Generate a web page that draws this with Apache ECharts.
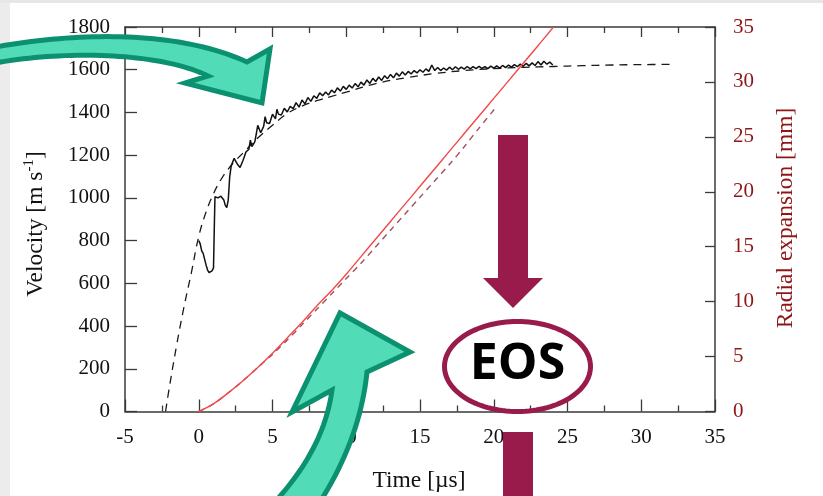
<!DOCTYPE html>
<html>
<head>
<meta charset="utf-8">
<script src="https://cdn.jsdelivr.net/npm/echarts@6/dist/echarts.min.js"></script>
<style>
  html, body { margin: 0; padding: 0; background: #ffffff; }
  #chart { width: 823px; height: 496px; }
</style>
</head>
<body>
<div id="chart"></div>
<script>
// Measured velocity [m/s] against time [µs]
const velTime = [0,0.1,0.2,0.3,0.4,0.5,0.6,0.7,0.8,0.9,1.0,1.06,1.1,1.2,1.3,1.4,1.5,1.6,1.7,1.8,1.9,2.0,2.1,
  2.2,2.4,2.6,2.8,3.0,3.2,3.4,3.5,3.6,3.8,3.9,4.0,4.2,4.4,4.5,4.6,4.8,5.0,5.2,5.3,5.4,5.6,5.8,6.0,6.2,6.4,6.6,6.8,
  7.0,7.2,7.4,7.6,7.8,8.0,8.2,8.4,8.6,8.8,9.0,9.2,9.4,9.6,9.8,10.0,10.2,10.4,10.6,10.8,11.0,11.2,11.4,11.6,11.8,
  12.0,12.2,12.4,12.6,12.8,13.0,13.2,13.4,13.6,13.8,14.0,14.2,14.4,14.6,14.8,15.0,15.2,15.4,15.6,15.8,
  16.0,16.2,16.4,16.6,16.8,17.0,17.2,17.4,17.6,17.8,18.0,18.2,18.4,18.6,18.8,19.0,19.2,19.4,19.6,19.8,
  20.0,20.2,20.4,20.6,20.8,21.0,21.2,21.4,21.6,21.8,22.0,22.2,22.4,22.6,22.8,23.0,23.2,23.4,23.6,23.8,24.0];
const velValue = [800,785,752,740,712,685,662,650,648,658,672,880,1005,1012,1000,995,1008,1012,990,965,955,990,1100,
  1150,1185,1160,1142,1175,1215,1228,1270,1240,1262,1300,1340,1305,1335,1380,1352,1348,1392,1370,1415,1392,1388,1420,1402,1428,1418,1446,1425,
  1458,1440,1470,1452,1478,1466,1492,1478,1496,1482,1505,1492,1515,1500,1522,1508,1528,1514,1535,1520,1542,1528,1552,1536,1560,
  1545,1566,1550,1572,1558,1578,1562,1584,1570,1590,1575,1592,1580,1596,1585,1600,1588,1604,1592,1622,
  1596,1610,1596,1608,1598,1612,1600,1614,1602,1612,1603,1615,1604,1614,1605,1616,1606,1615,1605,1617,
  1607,1618,1608,1620,1610,1622,1612,1624,1614,1626,1616,1630,1618,1632,1620,1638,1622,1640,1626,1636,1622];

// Fitted velocity curve [m/s]
const fitTime = [-2.25,-2,-1.5,-1,-0.5,0,0.5,1,1.5,2,2.5,3,4,5,6,7,8,9,10,12,14,16,18,20,22,24,26,28,30,32.3];
const fitValue = [0,110,310,490,650,820,935,1020,1085,1135,1175,1210,1280,1340,1395,1430,1455,1475,1495,1535,1562,1582,1596,1605,1611,1615,1619,1622,1624,1625];

// Measured radial expansion [mm]
const radTime = [0,1,2,3,4,5,6,7,8,9,10,11,12,13,14,15,16,17,18,19,20,21,22,23,24.05];
const radValue = [0,0.7,1.7,2.8,4.0,5.3,6.7,8.1,9.6,11.0,12.5,14.1,15.7,17.3,18.9,20.5,22.1,23.7,25.3,26.9,28.5,30.1,31.7,33.3,35];

// Modelled radial expansion [mm]
const radFitTime = [0,1,2,3,4,5,6,7,8,9,10,11,12,13,14,15,16,17,18,19,20.1];
const radFitValue = [0,0.7,1.7,2.8,4.0,5.2,6.5,7.9,9.3,10.7,12.1,13.5,15.0,16.5,18.0,19.5,21.0,22.5,24.1,25.8,27.6];

// Axis ranges
const timeRange = [-5, 35, 5];
const velRange = [0, 1800, 200];
const radRange = [0, 35, 5];

const zip = (xs, ys) => xs.map((x, i) => [x, ys[i]]);

// Helpers that turn curved outlines into polygon point lists
function cubicPts(p0, p1, p2, p3, n) {
  const out = [];
  for (let i = 0; i <= n; i++) {
    const t = i / n, u = 1 - t;
    out.push([
      u*u*u*p0[0] + 3*u*u*t*p1[0] + 3*u*t*t*p2[0] + t*t*t*p3[0],
      u*u*u*p0[1] + 3*u*u*t*p1[1] + 3*u*t*t*p2[1] + t*t*t*p3[1]
    ]);
  }
  return out;
}
function quadPts(p0, p1, p2, n) {
  const out = [];
  for (let i = 0; i <= n; i++) {
    const t = i / n, u = 1 - t;
    out.push([u*u*p0[0] + 2*u*t*p1[0] + t*t*p2[0], u*u*p0[1] + 2*u*t*p1[1] + t*t*p2[1]]);
  }
  return out;
}
function ellipsePts(cx, cy, rx, ry, n) {
  const out = [];
  for (let i = 0; i < n; i++) {
    const a = 2 * Math.PI * i / n;
    out.push([cx + rx * Math.cos(a), cy + ry * Math.sin(a)]);
  }
  return out;
}

// upper-left arrow outline
const arrowTop = [].concat(
  cubicPts([-10, 48], [80, 31], [180, 31], [247, 62], 40),
  [[270, 49], [262, 103], [185, 83]],
  cubicPts([208, 76], [160, 52], [60, 50], [-10, 64], 40)
);
// lower arrow outline
const arrowBottom = [].concat(
  [[340, 313], [410, 352]],
  quadPts([367, 372], [360, 440], [318, 505], 30),
  quadPts([272, 505], [324, 450], [332, 390], 30),
  [[292, 412]]
);

const SERIF = '"Liberation Serif", "Times New Roman", serif';
const AXIS = '#3a3a3a';
const DARKRED = '#8e1616';
const MAROON = '#981b4c';
const TEAL_FILL = '#52dbb7';
const TEAL_EDGE = '#0c9170';
const plainNumber = v => String(v);

const chart = echarts.init(document.getElementById('chart'), null, { renderer: 'canvas' });

const xCommon = {
  type: 'value', min: timeRange[0], max: timeRange[1], interval: timeRange[2],
  axisLine: { show: true, onZero: false, lineStyle: { color: AXIS, width: 1.5 } },
  splitLine: { show: false }, minorSplitLine: { show: false }
};

chart.setOption({
  animation: false,
  backgroundColor: '#ffffff',
  grid: { left: 125, right: 108, top: 27, bottom: 84.5, containLabel: false },
  xAxis: [
    Object.assign({}, xCommon, {
      position: 'bottom',
      axisTick: { show: true, inside: true, length: 12, lineStyle: { color: AXIS, width: 1.3 } },
      minorTick: { show: true, splitNumber: 2, length: 6, lineStyle: { color: AXIS, width: 1.3 } },
      axisLabel: { fontFamily: SERIF, fontSize: 21, color: '#111', margin: 15, formatter: plainNumber }
    }),
    Object.assign({}, xCommon, {
      position: 'top',
      axisTick: { show: true, inside: true, length: 10, lineStyle: { color: AXIS, width: 1.3 } },
      minorTick: { show: true, splitNumber: 2, length: 6, lineStyle: { color: AXIS, width: 1.3 } },
      axisLabel: { show: false }
    })
  ],
  yAxis: [
    {
      type: 'value', position: 'left', min: velRange[0], max: velRange[1], interval: velRange[2],
      axisLine: { show: true, onZero: false, lineStyle: { color: AXIS, width: 1.5 } },
      axisTick: { show: true, inside: true, length: 12, lineStyle: { color: AXIS, width: 1.3 } },
      axisLabel: { fontFamily: SERIF, fontSize: 21, color: '#111', margin: 15, formatter: plainNumber },
      splitLine: { show: false }
    },
    {
      type: 'value', position: 'right', min: radRange[0], max: radRange[1], interval: radRange[2],
      axisLine: { show: true, onZero: false, lineStyle: { color: AXIS, width: 1.5 } },
      axisTick: { show: true, inside: true, length: 10, lineStyle: { color: AXIS, width: 1.3 } },
      axisLabel: { fontFamily: SERIF, fontSize: 21, color: DARKRED, margin: 18, formatter: plainNumber },
      splitLine: { show: false }
    }
  ],
  series: [
    {
      name: 'Velocity fit', type: 'line', xAxisIndex: 0, yAxisIndex: 0,
      data: zip(fitTime, fitValue), showSymbol: false, smooth: 0.4,
      lineStyle: { color: '#1a1a1a', width: 1.3, type: [8, 6] }, z: 3
    },
    {
      name: 'Velocity', type: 'line', xAxisIndex: 0, yAxisIndex: 0,
      data: zip(velTime, velValue), showSymbol: false,
      lineStyle: { color: '#111111', width: 1.5 }, z: 4
    },
    {
      name: 'Radial expansion fit', type: 'line', xAxisIndex: 0, yAxisIndex: 1,
      data: zip(radFitTime, radFitValue), showSymbol: false, smooth: 0.3,
      lineStyle: { color: '#a3505c', width: 1.4, type: [6, 5] }, z: 3
    },
    {
      name: 'Radial expansion', type: 'line', xAxisIndex: 0, yAxisIndex: 1,
      data: zip(radTime, radValue), showSymbol: false, smooth: 0.3,
      lineStyle: { color: '#f24848', width: 1.4 }, z: 4
    }
  ],
  graphic: [
    // page margins
    { type: 'rect', z: 0, shape: { x: 0, y: 0, width: 10, height: 496 }, style: { fill: '#ececec' }, silent: true },
    { type: 'rect', z: 0, shape: { x: 0, y: 0, width: 823, height: 3 }, style: { fill: '#e6e6e6' }, silent: true },
    // axis titles
    {
      type: 'text', z: 50, x: 36, y: 224, rotation: Math.PI / 2,
      style: {
        text: '{a|Velocity [m s}{s|-1}{a|]}',
        align: 'center', verticalAlign: 'middle',
        rich: {
          a: { fontFamily: SERIF, fontSize: 23.5, fill: '#111', lineHeight: 28 },
          s: { fontFamily: SERIF, fontSize: 15, fill: '#111', lineHeight: 28, verticalAlign: 'top', padding: [0, 0, 10, 0] }
        }
      }
    },
    {
      type: 'text', z: 50, x: 786, y: 218, rotation: Math.PI / 2,
      style: { text: 'Radial expansion [mm]', font: '23.5px ' + SERIF, fill: DARKRED, align: 'center', verticalAlign: 'middle' }
    },
    {
      type: 'text', z: 50, x: 419, y: 481,
      style: { text: 'Time [µs]', font: '23.5px ' + SERIF, fill: '#111', align: 'center', verticalAlign: 'middle' }
    },
    // curved annotation arrows
    {
      type: 'polygon', z: 60, shape: { points: arrowTop },
      style: { fill: TEAL_FILL, stroke: TEAL_EDGE, lineWidth: 5, lineJoin: 'miter' }
    },
    {
      type: 'polygon', z: 60, shape: { points: arrowBottom },
      style: { fill: TEAL_FILL, stroke: TEAL_EDGE, lineWidth: 5, lineJoin: 'miter' }
    },
    // EOS callout
    {
      type: 'polygon', z: 60,
      shape: { points: [[498, 135], [528, 135], [528, 278], [543, 278], [513, 308], [483, 278], [498, 278]] },
      style: { fill: MAROON }
    },
    {
      type: 'polygon', z: 60, shape: { points: ellipsePts(517.5, 366.5, 73, 45, 120) },
      style: { fill: null, stroke: MAROON, lineWidth: 5 }
    },
    {
      type: 'text', z: 61, x: 517.5, y: 365,
      style: { text: 'EOS', font: 'bold 50px "Open Sans", sans-serif', fill: '#000', align: 'center', verticalAlign: 'middle' }
    },
    {
      type: 'rect', z: 60, shape: { x: 503, y: 432, width: 30, height: 70 }, style: { fill: MAROON }
    }
  ]
});
</script>
</body>
</html>
